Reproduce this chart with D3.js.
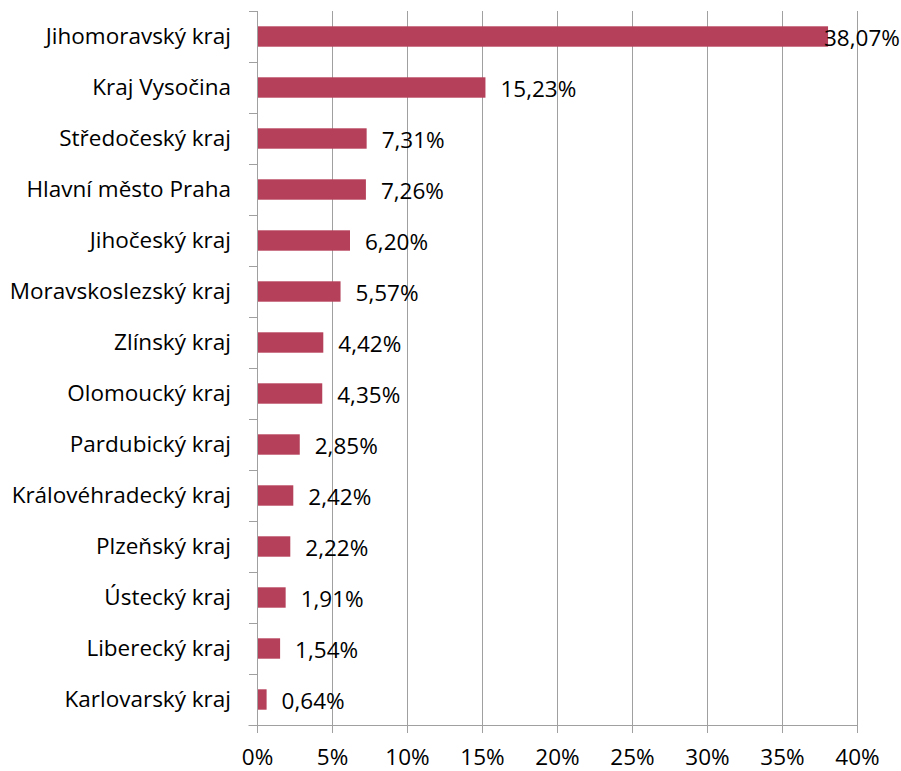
<!DOCTYPE html>
<html>
<head>
<meta charset="utf-8">
<script src="https://cdn.jsdelivr.net/npm/d3@7"></script>
<style>
  body { margin: 0; background: #fff; }
  text { font-family: "Open Sans", sans-serif; fill: #000; }
</style>
</head>
<body>
<div id="vis"></div>
<script>
// data
var regions = ["Jihomoravský kraj", "Kraj Vysočina", "Středočeský kraj", "Hlavní město Praha",
  "Jihočeský kraj", "Moravskoslezský kraj", "Zlínský kraj", "Olomoucký kraj",
  "Pardubický kraj", "Královéhradecký kraj", "Plzeňský kraj", "Ústecký kraj",
  "Liberecký kraj", "Karlovarský kraj"];
var shares = [38.07, 15.23, 7.31, 7.26, 6.20, 5.57, 4.42, 4.35, 2.85, 2.42, 2.22, 1.91, 1.54, 0.64];
var xTicks = [0, 5, 10, 15, 20, 25, 30, 35, 40];

var W = 901, H = 771;
var margin = {top: 11, right: 44, bottom: 46, left: 257};
var width = W - margin.left - margin.right,
    height = H - margin.top - margin.bottom;
var fs = "22.5px";

var cz = d3.formatLocale({decimal: ",", thousands: " ", grouping: [3], currency: ["", " Kč"]});
var fmt = cz.format(".2f");

var svg = d3.select("#vis").append("svg")
  .attr("width", W).attr("height", H);

var g = svg.append("g")
  .attr("transform", "translate(" + margin.left + "," + margin.top + ")");

var x = d3.scaleLinear().domain([0, 40]).range([0, width]);
var y = d3.scaleBand().domain(regions).range([0, height]).paddingInner(0.6).paddingOuter(0.3);

var gridColor = "#a0a0a0";

// vertical gridlines
g.selectAll(".grid").data(xTicks.slice(1)).enter().append("line")
  .attr("x1", function(d) { return Math.round(x(d)) + 0.5; })
  .attr("x2", function(d) { return Math.round(x(d)) + 0.5; })
  .attr("y1", 0).attr("y2", height)
  .attr("stroke", gridColor);

// bars
g.selectAll(".bar").data(shares).enter().append("rect")
  .attr("x", x(0))
  .attr("y", function(d, i) { return y(regions[i]); })
  .attr("width", function(d) { return x(d); })
  .attr("height", y.bandwidth())
  .attr("fill", "#b5405a");

// value labels (the longest one is pushed back to fit in the window)
g.selectAll(".val").data(shares).enter().append("text")
  .attr("x", function(d) { return Math.min(x(d) + 15, W - margin.left - 77); })
  .attr("y", function(d, i) { return y(regions[i]) + y.bandwidth() / 2 + 2; })
  .attr("dy", "0.35em")
  .style("font-size", fs)
  .text(function(d) { return fmt(d) + "%"; });

// x axis
var xAxis = g.append("g")
  .attr("transform", "translate(0," + height + ")")
  .call(d3.axisBottom(x).tickValues(xTicks).tickSize(8).tickPadding(16)
    .tickFormat(function(d) { return d + "%"; }));
xAxis.select(".domain").attr("stroke", gridColor).attr("d", "M-8.5,0.5H" + (width + 0.5));
xAxis.selectAll(".tick line").attr("stroke", gridColor);
xAxis.selectAll("text").style("font-size", fs).style("font-family", "Open Sans");

// y axis: ticks at band boundaries
var step = height / regions.length;
var bounds = d3.range(regions.length + 1).map(function(i) { return i * step; });
g.append("line")
  .attr("x1", 0.5).attr("x2", 0.5).attr("y1", 0).attr("y2", height)
  .attr("stroke", gridColor);
g.selectAll(".ytick").data(bounds).enter().append("line")
  .attr("x1", -8).attr("x2", 0.5)
  .attr("y1", function(d) { return Math.round(d) + 0.5; })
  .attr("y2", function(d) { return Math.round(d) + 0.5; })
  .attr("stroke", gridColor);

g.selectAll(".cat").data(regions).enter().append("text")
  .attr("x", -26)
  .attr("y", function(d) { return y(d) + y.bandwidth() / 2; })
  .attr("dy", "0.35em")
  .attr("text-anchor", "end")
  .style("font-size", fs)
  .text(function(d) { return d; });
</script>
</body>
</html>
